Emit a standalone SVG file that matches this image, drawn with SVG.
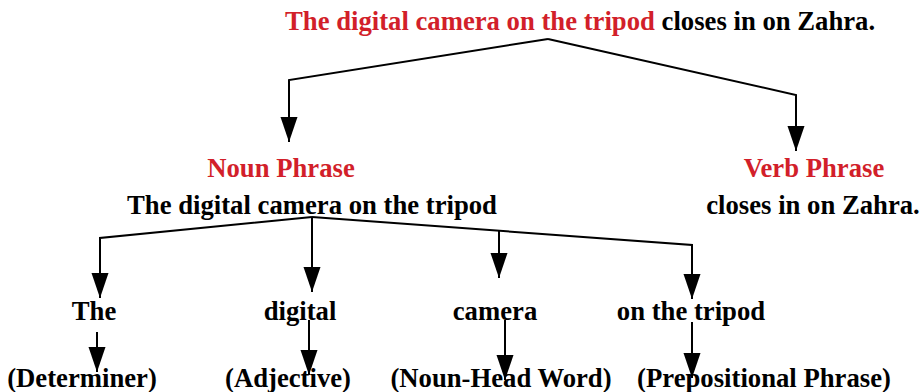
<svg xmlns="http://www.w3.org/2000/svg" width="921" height="392" viewBox="0 0 921 392">
<style>
text{font-family:"Liberation Serif","Times New Roman",serif;font-weight:bold;font-size:26.7px;fill:#000}
.red{fill:#d21f2a}
.c text{text-anchor:middle}
.conn path{fill:none;stroke:#000;stroke-width:2;marker-end:url(#ah)}
</style>
<defs>
<marker id="ah" markerUnits="userSpaceOnUse" viewBox="0 -9 25 18" refX="25" refY="0" markerWidth="25" markerHeight="18" orient="auto">
<path d="M0,-8.5 L25,0 L0,8.5 z" fill="#000"/>
</marker>
</defs>
<g id="sentence"><text x="285" y="30"><tspan class="red">The digital camera on the tripod</tspan> closes in on Zahra.</text></g>
<g class="c">
<g id="np"><text x="281" y="177" class="red">Noun Phrase</text><text x="312" y="214">The digital camera on the tripod</text></g>
<g id="vp"><text x="814" y="177" class="red">Verb Phrase</text><text x="813" y="214">closes in on Zahra.</text></g>
<g id="w-the"><text x="94" y="320">The</text></g>
<g id="w-digital"><text x="300" y="320">digital</text></g>
<g id="w-camera"><text x="495" y="320">camera</text></g>
<g id="w-tripod"><text x="691" y="320">on the tripod</text></g>
<g id="l-det"><text x="82" y="387">(Determiner)</text></g>
<g id="l-adj"><text x="288" y="387">(Adjective)</text></g>
<g id="l-noun"><text x="501" y="387">(Noun-Head Word)</text></g>
<g id="l-prep"><text x="764" y="387">(Prepositional Phrase)</text></g>
</g>
<g class="conn" id="connectors">
<path d="M548,39 L289,80 L289,142"/>
<path d="M548,39 L796,95 L796,151"/>
<path d="M312,217 L100,238 L100,298"/>
<path d="M312,217 L312,292"/>
<path d="M312,217 L692,245 L692,299"/>
<path d="M499,231 L499,278"/>
<path d="M97,332 L97,372"/>
<path d="M309,320 L309,375"/>
<path d="M505,320 L505,380"/>
<path d="M692,322 L692,378"/>
</g>
</svg>
